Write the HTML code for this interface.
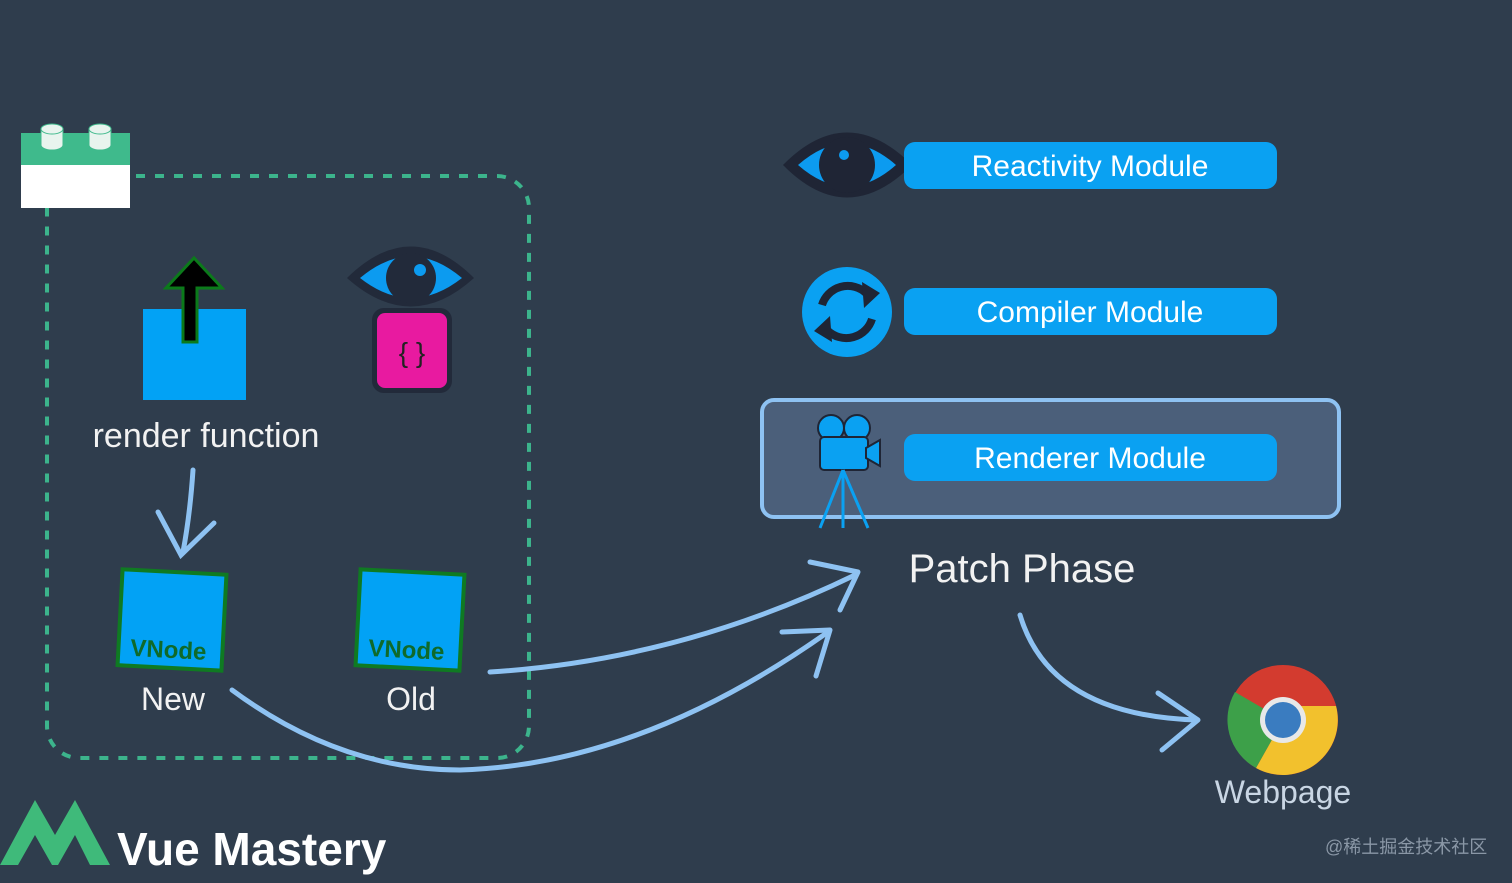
<!DOCTYPE html>
<html><head><meta charset="utf-8"><style>
html,body{margin:0;padding:0;background:#2f3d4d;}
svg{display:block}
text{font-family:"Liberation Sans","DejaVu Sans",sans-serif;}
</style></head><body>
<svg width="1512" height="883" viewBox="0 0 1512 883" xmlns="http://www.w3.org/2000/svg">
<rect width="1512" height="883" fill="#2f3d4d"/>
<rect x="47" y="176" width="482" height="582" rx="32" fill="none" stroke="#3cb48c" stroke-width="4" stroke-dasharray="9 10"/>
<rect x="21" y="133" width="109" height="34" fill="#3fba8c"/>
<rect x="21" y="165" width="109" height="43" fill="#ffffff"/>
<g fill="#e8f4ee" stroke="#3fba8c" stroke-width="1">
<path d="M41 129 v16 a11 5 0 0 0 22 0 v-16z"/><ellipse cx="52" cy="129" rx="11" ry="5"/>
<path d="M89 129 v16 a11 5 0 0 0 22 0 v-16z"/><ellipse cx="100" cy="129" rx="11" ry="5"/>
</g>
<rect x="143" y="309" width="103" height="91" fill="#02a2f5"/>
<path d="M183 342 V288 H166 L194 258 L222 288 H197 V342 Z" fill="#000" stroke="#0b7a1a" stroke-width="3"/>
<text x="206" y="447" font-size="34" fill="#f2f2f2" text-anchor="middle">render function</text>
<path d="M347 278 Q411 215 474 278 Q411 335 347 278Z" fill="#222a3a"/>
<path d="M360 278 Q411 235 462 278 Q411 318 360 278Z" fill="#0c9bf0"/>
<circle cx="411" cy="278" r="25" fill="#222a3a"/>
<circle cx="420" cy="270" r="6" fill="#0c9bf0"/>
<rect x="372" y="308" width="80" height="85" rx="12" fill="#222a3a"/>
<rect x="377" y="313" width="70" height="75" rx="8" fill="#e81aa0"/>
<text x="412" y="362" font-size="28" fill="#222" text-anchor="middle" font-family="Liberation Mono,monospace">{ }</text>
<g stroke="#8ec2f2" stroke-width="5" fill="none" stroke-linecap="round">
<path d="M193 470 Q190 515 183 552"/><path d="M158 512 L181 555 L214 523"/>
</g>
<g transform="rotate(3 173 620)">
<rect x="120" y="572" width="104" height="96" fill="#02a2f5" stroke="#0f7a22" stroke-width="4"/>
<text x="170" y="658" font-size="24" font-weight="bold" fill="#0f6a2a" text-anchor="middle" font-family="DejaVu Serif,serif">VNode</text>
</g>
<g transform="rotate(3 410 620)">
<rect x="358" y="572" width="104" height="96" fill="#02a2f5" stroke="#0f7a22" stroke-width="4"/>
<text x="408" y="658" font-size="24" font-weight="bold" fill="#0f6a2a" text-anchor="middle" font-family="DejaVu Serif,serif">VNode</text>
</g>
<text x="173" y="710" font-size="32" fill="#f2f2f2" text-anchor="middle">New</text>
<text x="411" y="710" font-size="32" fill="#f2f2f2" text-anchor="middle">Old</text>
<g stroke="#8ec2f2" stroke-width="5" fill="none" stroke-linecap="round" stroke-linejoin="round">
<path d="M490 672 Q680 660 855 575"/>
<path d="M810 562 L858 572 L840 610"/>
<path d="M232 690 Q340 770 460 770 Q640 765 828 632"/>
<path d="M782 632 L830 630 L816 676"/>
<path d="M1020 615 Q1050 715 1196 720"/>
<path d="M1158 693 L1198 720 L1162 750"/>
</g>
<path d="M783 165 Q847 100 912 165 Q847 230 783 165Z" fill="#1f2535"/>
<path d="M798 165 Q847 122 896 165 Q847 208 798 165Z" fill="#0c9bf0"/>
<circle cx="847" cy="165" r="28" fill="#1f2535"/>
<circle cx="844" cy="155" r="5" fill="#0c9bf0"/>
<rect x="904" y="142" width="373" height="47" rx="11" fill="#0aa1f2"/>
<text x="1090" y="176" font-size="30" fill="#fff" text-anchor="middle">Reactivity Module</text>
<circle cx="847" cy="312" r="45" fill="#0aa1f2"/>
<g stroke="#1f2535" stroke-width="8" fill="none">
<path d="M822 305 A27 27 0 0 1 866 293"/><path d="M872 319 A27 27 0 0 1 828 331"/>
</g>
<path d="M862 282 L880 293 L864 308Z M832 342 L814 331 L830 316Z" fill="#1f2535"/>
<rect x="904" y="288" width="373" height="47" rx="11" fill="#0aa1f2"/>
<text x="1090" y="322" font-size="30" fill="#fff" text-anchor="middle">Compiler Module</text>
<rect x="762" y="400" width="577" height="117" rx="12" fill="#4b5f7a" stroke="#8ec2f2" stroke-width="4"/>
<g fill="#0aa1f2" stroke="#1f2535" stroke-width="2">
<circle cx="831" cy="428" r="13"/><circle cx="857" cy="428" r="13"/>
<rect x="820" y="437" width="48" height="33" rx="4"/><path d="M866 448 L880 440 V466 L866 458Z"/>
</g>
<g stroke="#0aa1f2" stroke-width="3"><path d="M843 470 L820 528 M843 470 L843 528 M843 470 L868 528"/></g>
<rect x="904" y="434" width="373" height="47" rx="11" fill="#0aa1f2"/>
<text x="1090" y="468" font-size="30" fill="#fff" text-anchor="middle">Renderer Module</text>
<text x="1022" y="582" font-size="40" fill="#f2f2f2" text-anchor="middle">Patch Phase</text>
<circle cx="1283" cy="720" r="55" fill="#d33b2f"/>
<path d="M1283 720 L1256 768 A55 55 0 0 0 1336 706 L1283 706Z" fill="#f2c12d"/>
<path d="M1235 692 A55 55 0 0 0 1256 768 L1283 720Z" fill="#3da049"/>
<circle cx="1283" cy="720" r="23" fill="#e8e8e8"/>
<circle cx="1283" cy="720" r="18" fill="#3a7cc0"/>
<text x="1283" y="803" font-size="32" fill="#c9d6e4" text-anchor="middle">Webpage</text>
<path d="M0 865 L35 800 L55 835 L75 800 L110 865 H90 L75 835 L58 865 H52 L35 835 L18 865Z" fill="#3fba7a"/>
<text x="117" y="865" font-size="46" font-weight="bold" fill="#ffffff">Vue Mastery</text>
<text x="1325" y="853" font-size="18" fill="#8a97a6" font-family="Liberation Sans,'Noto Sans CJK SC',sans-serif">@稀土掘金技术社区</text>
</svg>
</body></html>
